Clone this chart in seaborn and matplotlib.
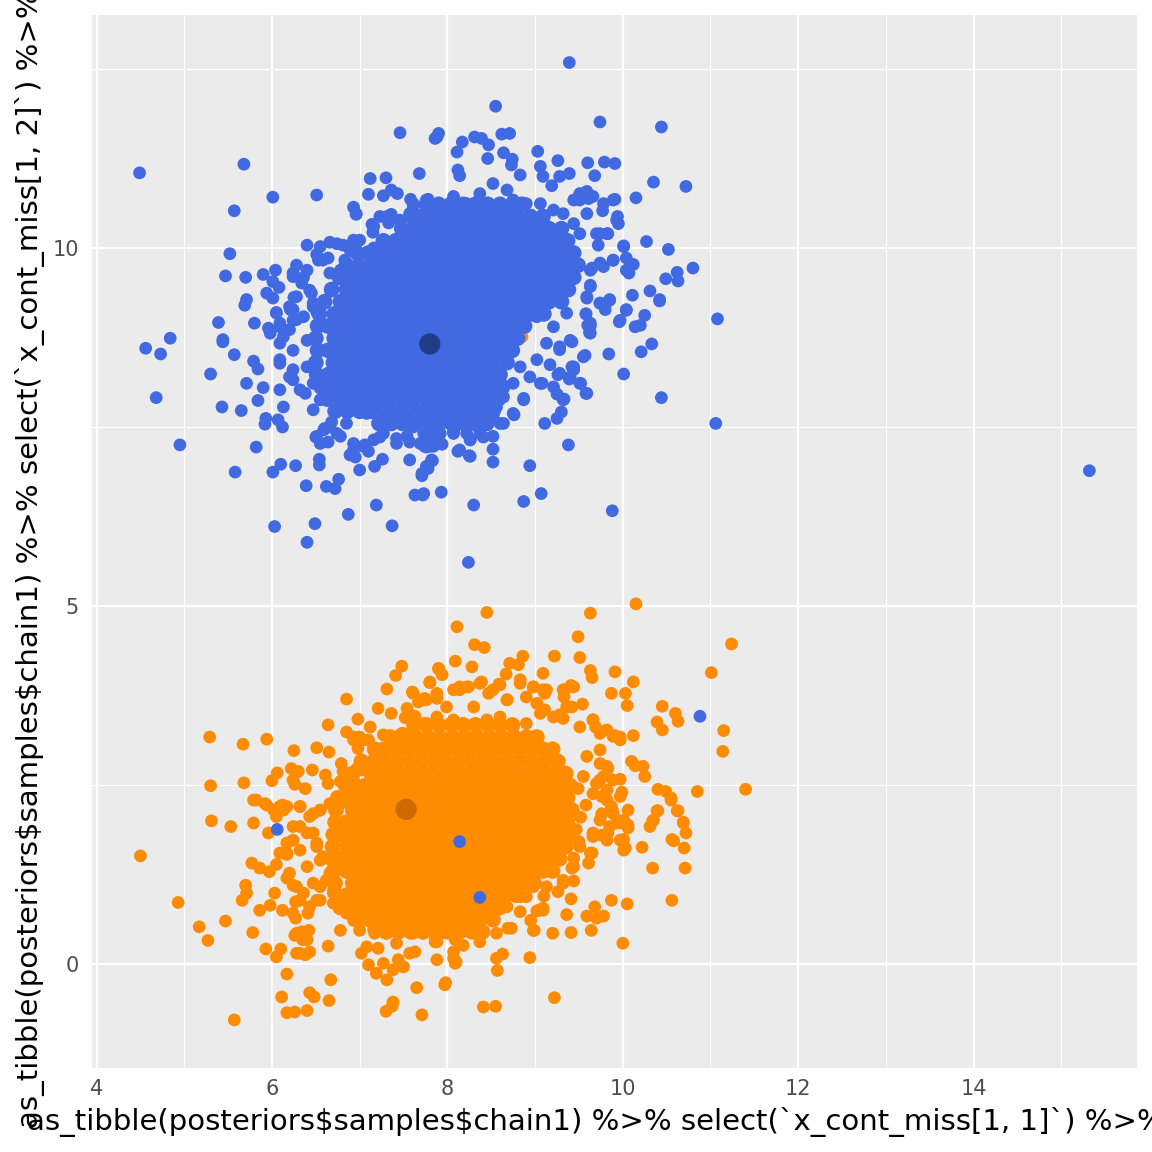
import matplotlib
matplotlib.use("Agg")
import matplotlib.pyplot as plt
from matplotlib.ticker import FixedLocator
import pandas as pd
import seaborn as sns

# ---------------- data ----------------
# sparse / outlying points of each cluster
blue_halo = [
    (4.49,11.05),(5.68,11.17),(5.57,10.52),(6.01,10.71),(6.51,10.74),(7.46,11.61),(7.68,11.04),(7.86,11.53),
    (7.12,10.97),(7.30,10.98),(7.10,10.75),(7.27,10.73),(7.36,10.81),(7.43,10.76),(6.93,10.57),(6.96,10.47),
    (7.58,10.68),(7.61,10.59),(7.78,10.68),(7.14,10.33),(7.15,10.22),(7.23,10.44),(7.36,10.47),(7.33,10.35),
    (7.57,10.48),(6.66,10.08),(6.40,10.04),(6.81,10.04),(6.93,10.11),(6.95,9.97),(7.16,10.00),(6.51,9.91),
    (6.53,9.83),(6.64,9.86),(6.83,9.83),(5.52,9.92),(5.47,9.61),(5.70,9.59),(5.90,9.63),(6.04,9.69),(6.01,9.53),
    (6.08,9.45),(6.28,9.76),(6.24,9.60),(6.36,9.59),(6.34,9.51),(5.94,9.37),(6.01,9.30),(5.71,9.28),(5.69,9.20),
    (6.25,9.31),(6.45,9.37),(6.47,9.23),(6.51,9.11),(6.66,9.65),(6.78,9.69),(5.39,8.96),(5.80,8.95),(4.84,8.74),
    (5.44,8.72),(6.05,9.10),(6.21,9.14),(6.36,9.04),(5.96,8.88),(6.09,8.90),(4.56,8.60),(4.73,8.52),(4.68,7.91),
    (9.39,12.59),(8.55,11.98),(9.74,11.76),(10.44,11.69),(10.72,10.86),(10.35,10.92),(10.15,10.70),(11.08,9.01),
    (10.80,9.72),(10.52,9.98),(10.27,10.09),(10.01,10.03),(10.49,9.57),(10.62,9.66),(10.63,9.54),(10.31,9.40),
    (10.42,9.28),(10.11,9.34),(10.04,9.14),(9.96,8.97),(10.25,9.06),(10.20,8.92),(10.14,8.90),(9.91,11.18),
    (9.79,11.20),(9.60,11.19),(9.68,11.01),(9.26,11.22),(9.03,11.35),(9.06,11.14),(9.39,11.04),(9.28,11.00),
    (9.19,10.87),(9.09,11.00),(8.83,11.02),(8.73,11.16),(8.74,11.24),(8.64,11.33),(8.46,11.25),(8.47,11.44),
    (8.39,11.53),(8.31,11.55),(8.17,11.48),(8.11,11.34),(8.12,11.09),(8.14,11.01),(8.62,11.59),(8.71,11.60),
    (7.88,11.55),(7.90,11.60),(9.91,10.68),(9.78,10.62),(9.77,10.52),(9.94,10.44),(9.95,10.34),(9.44,10.67),
    (9.51,10.76),(9.59,10.79),(9.61,10.69),(9.83,10.20),(9.74,10.20),(9.72,10.04),(10.04,9.86),(10.12,9.77),
    (10.07,9.65),(9.89,9.83),(9.78,9.74),(9.65,9.72),(9.63,9.48),(9.59,9.30),(9.74,9.23),(9.85,9.28),(9.80,9.14),
    (9.58,9.08),(9.62,8.82),(9.60,8.92),
    (5.44,8.69),(5.57,8.51),(5.79,8.42),(5.84,8.31),(5.30,8.24),(5.71,8.11),(5.90,8.05),(5.84,7.87),(5.43,7.78),
    (5.65,7.73),(5.93,7.62),(5.92,7.54),(6.07,7.60),(6.12,7.50),(4.95,7.25),(5.82,7.22),(5.58,6.87),(6.01,6.87),
    (6.10,6.98),(6.27,6.96),(6.39,6.68),(6.54,7.05),(6.54,6.97),(6.62,6.67),(6.72,6.64),(6.76,6.77),(6.87,6.28),
    (6.03,6.11),(6.49,6.15),(6.40,5.89),(7.19,6.41),(7.37,6.12),(7.00,6.90),(7.17,6.95),(7.26,7.05),(6.93,7.18),
    (7.06,7.25),(7.10,7.16),(6.89,7.11),(6.95,7.08),(6.50,7.36),(6.55,7.27),(6.64,7.29),(6.60,7.48),(6.68,7.57),
    (6.74,7.41),(6.85,7.55),(7.57,7.04),(7.63,6.55),(7.72,6.55),(7.71,6.82),(7.83,7.03),(7.78,6.92),(7.93,6.59),
    (8.30,6.41),(8.24,5.61),(7.94,7.26),(8.12,7.16),(8.25,7.10),(8.41,7.36),(8.52,7.19),(8.52,7.01),(7.23,7.36),
    (7.42,7.34),(7.57,7.29),(7.73,7.25),(7.84,7.23),(8.07,7.43),(8.26,7.32),
    (5.98,8.81),(6.09,8.67),(6.20,8.86),(6.28,9.00),(6.40,8.71),(6.09,8.44),(6.24,8.30),(6.09,8.02),(6.24,8.16),
    (6.40,8.34),(6.38,7.97),(6.13,7.78),(6.55,7.88),(6.47,8.11),(6.05,9.09),(6.24,9.14),(6.47,9.18),
    (6.74,7.74),(6.93,7.78),(7.08,7.69),(7.23,7.55),(7.38,7.60),(7.61,7.50),(7.84,7.41),(8.22,7.41),(8.37,7.55),
    (8.52,7.64),
    (11.06,7.55),(10.44,7.91),(10.01,8.24),(9.84,8.52),(10.21,8.55),(10.33,8.66),(10.42,9.26),(9.88,6.33),
    (9.38,7.25),(8.94,6.96),(9.07,6.57),(8.87,6.46),(9.11,7.55),(9.25,7.62),(9.30,7.71),(8.76,7.67),(9.33,7.89),
    (9.25,7.96),(9.58,7.97),(9.52,8.11),(9.39,8.17),(8.87,7.90),(8.64,7.55),(9.57,8.50),(9.42,8.69),(9.58,9.08),
    (9.63,8.91),(9.42,8.34),(9.44,8.30),(9.26,8.23),(9.17,8.37),(9.08,8.11),
    (8.83,9.18),(9.02,9.04),(9.21,8.90),(9.36,9.09),(9.13,8.67),(9.28,8.58),(9.02,8.44),(8.83,8.34),(8.94,8.20),
    (8.75,8.11),(8.64,7.92),(8.56,7.78),(8.45,7.69),(8.30,7.74),(8.18,7.60),(8.07,7.46),(7.92,7.41),(7.80,7.32),
    (7.74,7.23),(7.73,7.41),(7.76,7.22),(7.82,7.04),(7.76,6.95),(7.71,6.85),(7.73,6.57),
    (6.96,10.48),(7.16,10.30),(7.31,10.44),(7.46,10.39),(7.61,10.62),(7.76,10.67),(7.92,10.53),(8.07,10.72),
    (8.22,10.62),(8.37,10.76),(8.52,10.90),(8.68,10.81),(8.75,10.67),(8.90,10.62),(9.06,10.62),(9.21,10.53),
    (9.32,10.48),(9.44,10.34),(9.59,10.48),(9.51,10.20),(9.70,10.20),(9.82,10.20),(9.51,10.67),(9.66,10.72),
    (9.89,10.67),(9.93,10.39),(10.01,10.02),(9.89,9.83),(10.04,9.69),(9.74,9.79),(9.63,9.69),(9.44,9.69),
    (9.63,9.46),(9.59,9.32),(9.74,9.23),(9.85,9.27),(10.04,9.13),(9.97,8.99),(9.63,8.95),(9.63,8.81),(9.40,8.71),
    (9.28,8.62),(9.55,8.48),(9.44,8.34),(9.40,8.20),(9.28,8.25),(9.51,8.11),(9.59,7.97),(9.32,7.88),(9.21,8.06),
    (9.06,8.11),(8.87,7.88),(8.75,7.69),(8.60,7.55),(8.52,7.37),(8.37,7.41),(8.26,7.32),(8.14,7.18),(8.26,7.09),
    (8.07,7.41),(7.92,7.27),(7.80,7.23),(7.69,7.27),(7.54,7.37),(7.42,7.27),(7.27,7.41),(7.16,7.32),(7.04,7.23),
    (6.93,7.27),(6.78,7.37),(6.66,7.50),(6.59,7.46),(6.51,7.37),(6.47,7.74),(6.32,8.02),(6.20,8.20),(6.09,8.39),
    (6.24,8.57),(6.13,8.76),(6.09,8.95),(6.24,8.99),(6.20,9.18),(6.28,9.32),(6.43,9.41),(6.40,9.69),(6.24,9.65),
    (6.58,9.83),(6.55,10.02),(6.74,10.06),(6.89,9.97),(7.00,10.11),(7.12,9.92),
    (15.32,6.89),
    # blue points lying inside the orange cloud
    (6.06,1.88),(8.14,1.71),(8.37,0.93),(10.88,3.46),
]

orange_halo = [
    (5.29,3.17),(5.67,3.07),(5.94,3.14),(5.30,2.49),(5.68,2.53),(5.31,2.00),(5.53,1.92),(5.79,1.97),(5.82,2.29),
    (5.92,2.24),(6.00,2.56),(6.06,2.67),(6.12,2.22),(6.02,2.15),(6.13,2.15),(6.25,2.98),(6.22,2.73),(6.30,2.69),
    (6.24,2.57),(6.26,2.51),(6.38,2.45),(6.46,2.71),(6.51,3.02),(6.65,2.96),(6.64,3.34),(6.85,3.70),(6.98,3.42),
    (7.12,3.31),(7.21,3.57),(7.36,3.50),(7.31,3.84),(7.41,4.03),(7.48,4.16),(7.60,3.80),(7.54,3.57),(7.63,3.46),
    (7.52,3.44),(7.80,3.93),(7.90,4.12),(7.67,3.66),(7.74,3.71),(6.61,2.64),(6.64,2.52),(6.79,2.80),(6.81,2.69),
    (6.78,2.55),(6.93,2.57),(6.97,2.73),(7.02,2.71),(7.04,2.44),(6.85,3.24),(6.93,3.13),(7.00,3.17),(6.98,3.01),
    (7.10,3.13),(7.17,3.01),(7.27,3.20),(7.42,3.17),(7.48,3.22),(6.66,2.24),(6.78,2.24),(6.89,2.29),(7.00,2.27),
    (7.16,2.31),(6.32,2.20),(6.43,2.06),(6.55,2.15),
    (10.15,5.03),(9.63,4.90),(8.45,4.91),(8.11,4.71),(8.31,4.46),(8.42,4.42),(8.09,4.23),(8.28,4.15),(7.90,4.13),
    (7.94,4.04),(7.80,3.94),(8.71,4.20),(8.81,4.18),(8.86,4.30),(8.67,4.05),(8.59,3.91),(9.22,4.30),(9.09,4.06),
    (9.49,4.57),(9.51,4.28),(9.63,4.10),(9.65,4.00),(9.91,4.08),(10.12,3.94),(9.87,3.78),(10.03,3.78),(10.05,3.61),
    (11.24,4.47),(11.01,4.07),(10.45,3.60),(10.60,3.50),(10.63,3.39),(10.39,3.38),(10.45,3.27),(11.15,3.26),
    (11.14,2.97),(11.40,2.44),(10.85,2.41),(10.40,2.44),(10.49,2.41),(10.55,2.32),(10.40,2.14),(10.62,2.14),
    (10.69,1.98),(10.35,2.01),(10.31,1.92),(10.12,3.19),(10.10,2.83),(10.14,2.77),(10.23,2.76),(10.25,2.62),
    (9.97,2.58),(9.99,2.40),(10.06,2.15),(9.91,3.19),(9.82,3.27),(9.97,3.17),(9.66,3.41),(9.69,3.31),(9.54,3.63),
    (9.41,3.89),(9.34,3.83),(9.33,3.73),(9.42,3.59),(9.28,3.48),(9.32,3.43),(9.09,3.83),(9.11,3.78),(8.98,3.87),
    (8.83,3.97),(8.90,3.73),(9.02,3.64),(9.11,3.55),(7.74,3.69),(7.88,3.71),(8.07,3.83),(8.14,3.87),(8.24,3.87),
    (8.39,3.94),(8.47,3.78),(8.60,3.90),(8.68,3.69),(9.74,2.80),(9.83,2.73),(9.78,2.62),(9.70,2.52),(9.82,2.43),
    (9.76,2.34),(9.87,2.20),(9.93,1.97),(10.06,1.94),
    (4.50,1.51),(4.93,0.86),(5.17,0.52),(5.27,0.33),(5.47,0.60),(5.57,-0.78),(5.96,1.83),(5.77,1.41),(5.86,1.34),
    (5.97,1.29),(5.70,1.10),(5.71,0.99),(5.66,0.89),(5.78,0.44),(5.86,0.75),(5.98,0.82),(6.03,0.99),(5.93,0.21),
    (6.05,0.10),(6.10,0.21),(6.17,-0.14),(6.11,-0.46),(6.17,-0.68),(6.26,-0.67),(6.40,-0.65),(6.43,-0.40),
    (6.48,-0.46),(6.65,-0.51),(6.67,-0.22),(7.30,-0.66),(7.38,-0.53),(7.37,-0.59),(7.71,-0.71),(7.65,-0.33),
    (6.12,0.75),(6.27,0.87),(6.27,0.64),(6.41,0.71),(6.35,0.34),(6.34,0.45),(6.42,0.47),(6.26,0.40),(6.28,0.15),
    (6.38,0.13),(6.43,0.17),(6.64,0.25),(6.78,0.47),(6.05,1.39),(6.17,1.20),(6.24,1.10),(6.09,1.55),(6.17,1.53),
    (6.32,0.89),(6.51,0.89),(6.55,1.08),(6.70,1.03),(6.78,0.89),(6.93,0.61),(7.00,0.47),(7.17,0.43),(7.21,0.22),
    (7.08,0.24),(7.02,0.15),(7.10,-0.01),(7.19,-0.13),(7.27,0.01),(7.31,-0.22),(7.38,-0.08),(7.44,0.06),
    (7.50,-0.04),(7.57,0.15),(7.63,0.17),(7.88,0.06),(7.86,0.31),(7.73,0.43),(7.52,0.61),(7.42,0.29),(7.69,0.52),
    (6.17,2.20),(6.32,2.20),(6.47,2.10),(6.55,2.15),(6.24,1.92),(6.40,1.83),(6.51,1.69),(6.32,1.59),(6.17,1.69),
    (6.40,1.36),(6.55,1.45),(6.62,1.17),(6.47,1.13),(6.70,0.85),(6.55,0.89),(5.79,2.29),(5.94,2.22),(6.09,2.20),
    (6.05,2.06),
    (9.22,-0.47),(8.41,-0.60),(8.55,-0.59),(8.57,-0.09),(7.98,-0.26),(7.97,-0.29),(8.09,0.01),(8.07,0.08),
    (8.94,0.09),(8.56,0.08),(8.63,0.14),(10.00,0.29),(10.56,0.89),(10.05,0.84),(9.87,0.89),(9.68,0.80),(9.59,0.67),
    (9.70,0.64),(9.78,0.67),(9.64,0.47),(9.41,0.44),(9.20,0.43),(8.99,0.47),(9.36,0.69),(9.41,0.91),(9.10,0.95),
    (9.09,0.75),(9.02,0.74),(8.95,0.61),(10.71,1.34),(10.34,1.34),(10.22,1.63),(10.03,1.62),(10.01,1.74),
    (10.56,1.74),(10.58,1.72),(10.70,1.62),(10.72,1.83),(10.69,1.97),(10.63,2.14),(10.39,2.14),(10.34,2.00),
    (10.06,1.90),(9.97,1.97),(10.55,2.29),(9.83,1.83),(9.76,1.80),(9.66,1.78),(9.76,2.10),(9.88,2.15),(9.61,1.41),
    (9.65,1.55),(9.50,1.71),(9.44,1.48),(9.42,1.34),(9.44,1.16),(9.32,1.13),(9.26,1.01),(8.69,0.50),(8.56,0.43),
    (8.73,0.50),(8.37,0.31),(8.18,0.26),(8.09,0.34),(7.88,0.31),(7.86,0.38),(8.07,0.17),(8.10,0.03),(8.83,0.73),
    (8.98,0.47),(8.90,0.94),(9.04,0.75),(9.09,0.78),
    (7.61,3.78),(7.76,3.69),(7.88,3.78),(7.99,3.59),(8.14,3.83),(8.22,3.87),(8.37,3.92),(8.52,3.83),(8.68,3.69),
    (8.83,3.92),(8.98,3.87),(9.13,3.83),(9.32,3.83),(9.44,3.87),(9.36,3.59),(9.21,3.45),(9.06,3.50),(8.90,3.36),
    (8.75,3.31),(8.60,3.45),(8.45,3.41),(8.30,3.59),(8.07,3.41),(7.88,3.45),(7.73,3.36),(7.61,3.13),(7.50,3.22),
    (7.35,3.13),(7.19,2.99),(7.04,3.13),(6.93,3.17),
    (9.51,3.31),(9.66,3.41),(9.74,3.22),(9.89,3.18),(9.97,3.13),(9.74,2.99),(9.59,2.90),(9.82,2.76),(9.89,2.57),
    (9.74,2.57),(9.66,2.38),(9.82,2.29),(9.97,2.34),(9.89,2.10),(9.74,2.01),(9.85,1.92),(10.01,2.01),(9.66,1.83),
    (9.82,1.73),(9.97,1.73),(10.01,1.59),(9.63,1.55),(9.51,1.64),(9.44,1.36),(9.32,1.17),(9.13,1.08),(8.98,1.08),
    (8.83,0.94),(8.68,0.80),(8.52,0.71),(8.37,0.61),(8.22,0.52),(8.07,0.48),(7.92,0.43),(7.76,0.52),(7.61,0.43),
    (7.46,0.48),(7.31,0.43),(7.16,0.48),(7.00,0.61),(6.85,0.71),(6.74,0.85),(6.70,0.99),(6.66,1.27),(6.58,1.50),
    (6.51,1.64),(6.47,1.83),(6.32,1.92),(6.24,1.73),(6.17,1.55),(6.20,1.27),(6.28,1.08),(6.36,0.99),(6.43,0.80),
    (6.24,0.71),(6.28,0.43),(6.40,0.34),(6.32,0.15),
    (9.52,2.05),(9.58,2.22),(9.49,2.45),(9.55,2.62),(9.47,1.88),
    # orange points hidden under the blue cloud
    (7.57,9.88),(8.85,8.76),
]

# dense cores: x positions along each row of the solid area
blue_core_y = [7.55, 7.72, 7.89, 8.06, 8.23, 8.40, 8.57, 8.74, 8.91, 9.08,
               9.25, 9.42, 9.59, 9.76, 9.93, 10.10, 10.27, 10.44, 10.61]
blue_core_x = [
    [7.22,7.36,7.49,7.63,7.78,7.91,8.05,8.19,8.32,8.45],
    [6.72,6.86,7.00,7.13,7.28,7.42,7.55,7.70,7.84,7.97,8.12,8.25,8.39,8.52],
    [6.63,6.78,6.92,7.06,7.20,7.34,7.49,7.62,7.77,7.90,8.04,8.18,8.32,8.45,8.58],
    [6.56,6.70,6.84,6.99,7.13,7.27,7.41,7.55,7.69,7.83,7.97,8.11,8.25,8.39,8.52,8.63],
    [6.51,6.64,6.78,6.92,7.06,7.20,7.34,7.48,7.62,7.76,7.90,8.04,8.18,8.32,8.46,8.60],
    [6.50,6.70,6.85,6.99,7.13,7.27,7.41,7.55,7.69,7.83,7.97,8.11,8.25,8.39,8.53,8.68],
    [6.52,6.64,6.78,6.92,7.06,7.20,7.34,7.48,7.62,7.76,7.90,8.04,8.18,8.32,8.46,8.60,8.74],
    [6.50,6.71,6.85,6.99,7.13,7.27,7.41,7.55,7.69,7.83,7.97,8.11,8.25,8.39,8.53,8.67,8.80],
    [6.52,6.64,6.78,6.92,7.06,7.20,7.34,7.48,7.62,7.76,7.90,8.04,8.18,8.32,8.46,8.60,8.74,8.88],
    [6.54,6.71,6.85,6.99,7.13,7.27,7.41,7.55,7.69,7.83,7.97,8.11,8.25,8.39,8.53,8.67,8.81,8.95,9.10],
    [6.60,6.78,6.92,7.06,7.20,7.34,7.48,7.62,7.76,7.90,8.04,8.18,8.32,8.46,8.60,8.74,8.88,9.02,9.16,9.30],
    [6.68,6.85,6.99,7.13,7.27,7.41,7.55,7.69,7.83,7.97,8.11,8.25,8.39,8.53,8.67,8.81,8.95,9.09,9.23,9.38],
    [6.77,6.92,7.06,7.20,7.34,7.48,7.62,7.76,7.90,8.04,8.18,8.32,8.46,8.60,8.74,8.88,9.02,9.16,9.30,9.44],
    [6.85,6.99,7.13,7.27,7.41,7.55,7.69,7.83,7.97,8.11,8.25,8.39,8.53,8.67,8.81,8.95,9.09,9.23,9.37,9.49],
    [6.97,7.10,7.20,7.34,7.48,7.62,7.76,7.90,8.04,8.18,8.32,8.46,8.60,8.74,8.88,9.02,9.16,9.30,9.44],
    [7.27,7.41,7.55,7.69,7.83,7.97,8.11,8.25,8.39,8.53,8.67,8.81,8.95,9.09,9.23,9.37],
    [7.48,7.62,7.76,7.90,8.04,8.18,8.32,8.46,8.60,8.74,8.88,9.02,9.16,9.30],
    [7.59,7.69,7.83,7.97,8.11,8.25,8.39,8.53,8.67,8.81,8.95,9.09],
    [7.76,7.90,8.04,8.18,8.32,8.46,8.60,8.74,8.85],
]

orange_core_y = [0.45, 0.62, 0.79, 0.96, 1.13, 1.30, 1.47, 1.64, 1.81, 1.98,
                 2.15, 2.32, 2.49, 2.66, 2.83, 3.00, 3.17, 3.34]
orange_core_x = [
    [7.30,7.44,7.58,7.72,7.86,8.00,8.14,8.28,8.40],
    [6.97,7.11,7.25,7.39,7.53,7.67,7.81,7.95,8.09,8.23,8.37,8.52],
    [6.78,6.92,7.06,7.20,7.34,7.48,7.62,7.76,7.90,8.04,8.18,8.32,8.46,8.60],
    [6.74,6.85,6.99,7.13,7.27,7.41,7.55,7.69,7.83,7.97,8.11,8.25,8.39,8.53,8.67,8.79],
    [6.72,6.92,7.06,7.20,7.34,7.48,7.62,7.76,7.90,8.04,8.18,8.32,8.46,8.60,8.74,8.88,8.99],
    [6.70,6.85,6.99,7.13,7.27,7.41,7.55,7.69,7.83,7.97,8.11,8.25,8.39,8.53,8.67,8.81,8.95,9.09,9.20],
    [6.68,6.78,6.92,7.06,7.20,7.34,7.48,7.62,7.76,7.90,8.04,8.18,8.32,8.46,8.60,8.74,8.88,9.02,9.16,9.28],
    [6.69,6.85,6.99,7.13,7.27,7.41,7.55,7.69,7.83,7.97,8.11,8.25,8.39,8.53,8.67,8.81,8.95,9.09,9.23,9.35],
    [6.70,6.78,6.92,7.06,7.20,7.34,7.48,7.62,7.76,7.90,8.04,8.18,8.32,8.46,8.60,8.74,8.88,9.02,9.16,9.30,9.40],
    [6.72,6.85,6.99,7.13,7.27,7.41,7.55,7.69,7.83,7.97,8.11,8.25,8.39,8.53,8.67,8.81,8.95,9.09,9.23,9.37],
    [6.73,6.92,7.06,7.20,7.34,7.48,7.62,7.76,7.90,8.04,8.18,8.32,8.46,8.60,8.74,8.88,9.02,9.16,9.30,9.42],
    [6.75,6.85,6.99,7.13,7.27,7.41,7.55,7.69,7.83,7.97,8.11,8.25,8.39,8.53,8.67,8.81,8.95,9.09,9.23,9.37],
    [6.84,6.95,7.06,7.20,7.34,7.48,7.62,7.76,7.90,8.04,8.18,8.32,8.46,8.60,8.74,8.88,9.02,9.16,9.30,9.40],
    [6.92,7.13,7.27,7.41,7.55,7.69,7.83,7.97,8.11,8.25,8.39,8.53,8.67,8.81,8.95,9.09,9.23,9.35],
    [7.02,7.16,7.30,7.44,7.58,7.72,7.86,8.00,8.14,8.28,8.42,8.56,8.70,8.84,8.98,9.12,9.26],
    [7.17,7.27,7.41,7.55,7.69,7.83,7.97,8.11,8.25,8.39,8.53,8.67,8.81,8.95,9.09,9.20],
    [7.35,7.50,7.64,7.78,7.92,8.06,8.20,8.34,8.48,8.62,8.76,8.90,9.02],
    [7.62,7.76,7.90,8.04,8.18,8.32,8.46,8.60,8.74],
]

# cluster centres (large points)
centre_x = [7.53, 7.80]
centre_y = [2.16, 8.66]
centre_group = ["orange", "blue"]

x_ticks = [4, 6, 8, 10, 12, 14]
y_ticks = [0, 5, 10]
x_label = "as_tibble(posteriors\\$samples\\$chain1) %>% select(`x_cont_miss[1, 1]`) %>% ..."
y_label = "as_tibble(posteriors\\$samples\\$chain1) %>% select(`x_cont_miss[1, 2]`) %>% ..."

# ---------------- build table ----------------
def expand(halo, ys, xs, name):
    rows = [(x, y, name, "fringe") for (x, y) in halo]
    for y, row in zip(ys, xs):
        rows += [(x, y, name, "core") for x in row]
    return rows

orange_rows = expand(orange_halo, orange_core_y, orange_core_x, "orange")
blue_rows = expand(blue_halo, blue_core_y, blue_core_x, "blue")
df = pd.DataFrame(orange_rows + blue_rows, columns=["x", "y", "group", "kind"])
centres = pd.DataFrame({"x": centre_x, "y": centre_y, "group": centre_group})

# ---------------- style ----------------
sns.set_theme(style="darkgrid")
plt.rcParams["font.family"] = ["DejaVu Sans"]

W = 1152
fig = plt.figure(figsize=(11.52, 11.52), dpi=100)
fig.patch.set_facecolor("white")
ax = fig.add_axes([92 / W, 1 - 1068 / W, (1137 - 92) / W, (1068 - 15) / W])
ax.set_facecolor("#EBEBEB")

sns.scatterplot(data=df, x="x", y="y", hue="group", size="kind",
                palette={"orange": "#FF8C00", "blue": "#4169E1"},
                sizes={"fringe": 84, "core": 128},
                linewidth=0, legend=False, ax=ax, zorder=3)
sns.scatterplot(data=centres, x="x", y="y", hue="group",
                palette={"orange": "#CC6A00", "blue": "#213C86"},
                s=235, linewidth=0, legend=False, ax=ax, zorder=4)

ax.set_xlim(3.948, 15.863)
ax.set_ylim(-1.452, 13.254)
ax.xaxis.set_major_locator(FixedLocator(x_ticks))
ax.yaxis.set_major_locator(FixedLocator(y_ticks))
ax.xaxis.set_minor_locator(FixedLocator([5, 7, 9, 11, 13, 15]))
ax.yaxis.set_minor_locator(FixedLocator([2.5, 7.5, 12.5]))
ax.grid(which="major", color="white", linewidth=1.6)
ax.grid(which="minor", color="white", linewidth=0.8)
ax.set_axisbelow(True)
for sp in ax.spines.values():
    sp.set_visible(False)
ax.tick_params(axis="both", which="major", length=4.5, width=0.8, color="#333333",
               labelcolor="#4D4D4D", labelsize=15)
ax.tick_params(axis="x", which="major", pad=3.6)
ax.tick_params(axis="y", which="major", pad=5)
ax.tick_params(which="minor", length=0)
ax.set_xticklabels([str(t) for t in x_ticks])
ax.set_yticklabels([str(t) for t in y_ticks])
ax.set_xlabel("")
ax.set_ylabel("")

fig.text(614.5 / W, 1 - 1122 / W, x_label, ha="center", va="center",
         fontsize=21, color="black")
fig.text(30 / W, 1 - 541 / W, y_label, ha="center", va="center",
         rotation=90, fontsize=21, color="black")

fig.savefig("out.png", dpi=100)
